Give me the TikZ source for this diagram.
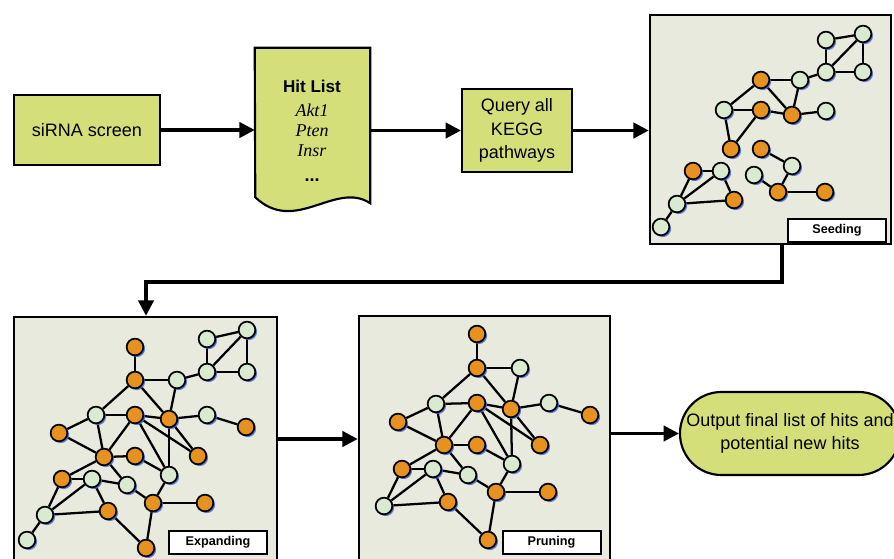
\documentclass[tikz,border=0pt]{standalone}
\usepackage{fontspec}
\setmainfont{Liberation Sans}
\newfontfamily\genefont{Liberation Serif}
\usetikzlibrary{arrows.meta,shadows}

\definecolor{boxfill}{RGB}{213,223,122}
\definecolor{panelfill}{RGB}{231,234,221}
\definecolor{hitorange}{RGB}{231,145,33}
\definecolor{nodegreen}{RGB}{218,234,208}
\definecolor{shadowblue}{RGB}{70,100,215}

\pgfdeclarelayer{back}
\pgfdeclarelayer{links}
\pgfsetlayers{back,links,main}

\tikzset{
  flowbox/.style={draw, line width=1.6pt, fill=boxfill, inner sep=0pt},
  panel/.style={draw, line width=1.9pt, fill=panelfill, inner sep=0pt},
  tag/.style={draw, line width=1.5pt, fill=white, inner sep=0pt,
    minimum width=73.5pt, minimum height=17.5pt,
    font=\bfseries\fontsize{9.5}{10}\selectfont},
  hub/.style={circle, draw, line width=1.3pt, minimum size=12.5pt, inner sep=0pt,
    drop shadow={shadow xshift=1.3pt, shadow yshift=-1.3pt, fill=shadowblue, opacity=0.85}},
  hit/.style={hub, fill=hitorange},
  cand/.style={hub, fill=nodegreen},
  link/.style={line width=1.7pt},
  flow/.style={line width=2.4pt, -{Triangle[length=11.5pt,width=11.5pt]}},
  boxtext/.style={font=\fontsize{13.5}{17.5}\selectfont, align=center},
}

\begin{document}
\begin{tikzpicture}[x=0.75pt, y=-0.75pt]
\useasboundingbox (0,0) rectangle (894,559);

% ---------- top row of the workflow ----------
\node[flowbox, minimum width=109.5pt, minimum height=52.5pt, boxtext] (sirna) at (87,130) {siRNA screen};

% hit list drawn as a document shape
\node[minimum width=86.25pt, minimum height=116.25pt, inner sep=0pt] (hitlist) at (312.5,125.5) {};
\draw[flowbox] (hitlist.north west) -- (hitlist.north east) -- (hitlist.south east)
  .. controls +(-35,-23) and +(40,38) .. ++(-115,-6) -- cycle;
\node[anchor=base, font=\bfseries\fontsize{12.8}{14}\selectfont] (hltitle) at (312,93) {Hit List};
\node[anchor=base, font=\genefont\itshape\fontsize{13.5}{15}\selectfont] (gakt) at (312,117) {Akt1};
\node[anchor=base, font=\genefont\itshape\fontsize{13.5}{15}\selectfont] (gpten) at (312,137) {Pten};
\node[anchor=base, font=\genefont\itshape\fontsize{13.5}{15}\selectfont] (ginsr) at (312,157) {Insr};
\node[anchor=base, font=\bfseries\fontsize{13.5}{15}\selectfont] (gmore) at (312,182) {...};

\node[flowbox, minimum width=82.5pt, minimum height=62.25pt, boxtext] (query) at (517,130.5) {Query all\\KEGG\\pathways};

% ---------- panels ----------
\begin{pgfonlayer}{back}
\node[panel, minimum width=180.75pt, minimum height=171.75pt] (seed) at (770.5,129.5) {};
\node[panel, minimum width=197.25pt, minimum height=193.5pt] (expand) at (145.5,446) {};
\node[panel, minimum width=188.25pt, minimum height=194.25pt] (prune) at (484.5,445.5) {};
\end{pgfonlayer}

\node[tag] (seedtag) at (837,230.5) {Seeding};
\node[tag] (expandtag) at (218,542.5) {Expanding};
\node[tag] (prunetag) at (551.5,542.5) {Pruning};

\node[flowbox, minimum width=165pt, minimum height=62.25pt, rounded corners=31pt, boxtext,
  font=\fontsize{13.5}{17}\selectfont] (output) at (790,433.5) {Output final list of hits and\\potential new hits};

% ---------- workflow arrows ----------
\coordinate (drop) at (146,282);
\draw[flow] (sirna.east) -- (sirna.east -| hitlist.west);
\draw[flow] (hitlist.east |- query.west) -- (query.west);
\draw[flow] (query.east) -- (query.east -| seed.west);
\draw[flow] ([xshift=8.6pt]seed.south) |- (drop) -- (drop |- expand.north);
\draw[flow] ([yshift=5.25pt]expand.east) -- ([yshift=5.25pt]expand.east -| prune.west);
\draw[flow] (prune.east |- output.west) -- (output.west);

% ---------- seeding network ----------
\foreach \n/\s/\x/\y in {s1/cand/826/40, s2/cand/863/34, s3/cand/826/72, s4/cand/863/72,
  s5/cand/800/80, s6/hit/761/80, s7/cand/724/110, s8/hit/761/110, s9/hit/792/115,
  s10/cand/826/111, s11/hit/731/149, s12/hit/761/149, s13/cand/792/166, s14/cand/754/175,
  s15/hit/778/192, s16/hit/825/192, s17/hit/693/171, s18/cand/721/171, s19/cand/677/204,
  s20/hit/734/200, s21/cand/661/227}
  \node[\s] (\n) at (\x,\y) {};
\begin{pgfonlayer}{links}
\foreach \a/\b in {s1/s2, s1/s3, s2/s3, s2/s4, s3/s4, s5/s3, s6/s5, s7/s6, s7/s8, s8/s9,
  s6/s9, s5/s9, s9/s10, s7/s11, s8/s11, s12/s13, s13/s15, s14/s15, s15/s16, s17/s18,
  s17/s19, s18/s19, s18/s20, s19/s20, s19/s21}
  \draw[link] (\a) -- (\b);
\end{pgfonlayer}

% ---------- expanding network ----------
\foreach \n/\s/\x/\y in {e1/cand/207/339, e2/cand/247/330, e3/cand/207/372, e4/cand/247/372,
  e5/cand/177/380, e6/hit/135/347, e7/hit/135/380, e8/cand/96/415, e9/hit/135/415,
  e10/hit/169/419, e11/cand/207/415, e12/hit/246/427, e13/hit/59/433, e14/hit/104/457,
  e15/hit/135/456, e16/hit/198/456, e17/cand/169/475, e18/hit/62/479, e19/cand/92/479,
  e20/cand/127/485, e21/hit/153/503, e22/hit/205/503, e23/cand/45/515, e24/hit/108/511,
  e25/cand/27/540, e26/hit/146/548}
  \node[\s] (\n) at (\x,\y) {};
\begin{pgfonlayer}{links}
\foreach \a/\b in {e1/e2, e1/e3, e2/e3, e2/e4, e3/e4, e5/e3, e6/e7, e7/e5, e7/e8, e7/e10,
  e5/e10, e8/e9, e9/e10, e10/e11, e11/e12, e8/e13, e13/e14, e8/e14, e9/e14, e9/e16,
  e10/e16, e9/e17, e10/e17, e14/e15, e15/e17, e14/e18, e14/e20, e18/e19, e19/e20,
  e20/e21, e17/e21, e21/e22, e21/e26, e18/e23, e19/e23, e19/e24, e23/e24, e24/e26, e23/e25}
  \draw[link] (\a) -- (\b);
\end{pgfonlayer}

% ---------- pruning network ----------
\foreach \n/\s/\x/\y in {p1/hit/477/334, p2/hit/477/368, p3/cand/520/368, p4/cand/436/404,
  p5/hit/477/403, p6/hit/511/409, p7/cand/549/403, p8/hit/590/415, p9/hit/398/422,
  p10/hit/444/445, p11/hit/477/445, p12/hit/540/445, p13/cand/512/464, p14/hit/402/469,
  p15/cand/433/469, p16/cand/468/475, p17/hit/496/492, p18/hit/548/492, p19/cand/384/506,
  p20/hit/448/502, p21/hit/488/540}
  \node[\s] (\n) at (\x,\y) {};
\begin{pgfonlayer}{links}
\foreach \a/\b in {p1/p2, p2/p3, p2/p4, p2/p6, p3/p6, p4/p5, p5/p6, p6/p7, p7/p8, p4/p9,
  p9/p10, p4/p10, p5/p10, p5/p12, p5/p13, p6/p12, p6/p13, p10/p11, p11/p13, p10/p14,
  p10/p16, p14/p15, p15/p16, p16/p17, p13/p17, p17/p18, p17/p21, p14/p19, p15/p19,
  p15/p20, p19/p20, p20/p21}
  \draw[link] (\a) -- (\b);
\end{pgfonlayer}
\end{tikzpicture}
\end{document}
